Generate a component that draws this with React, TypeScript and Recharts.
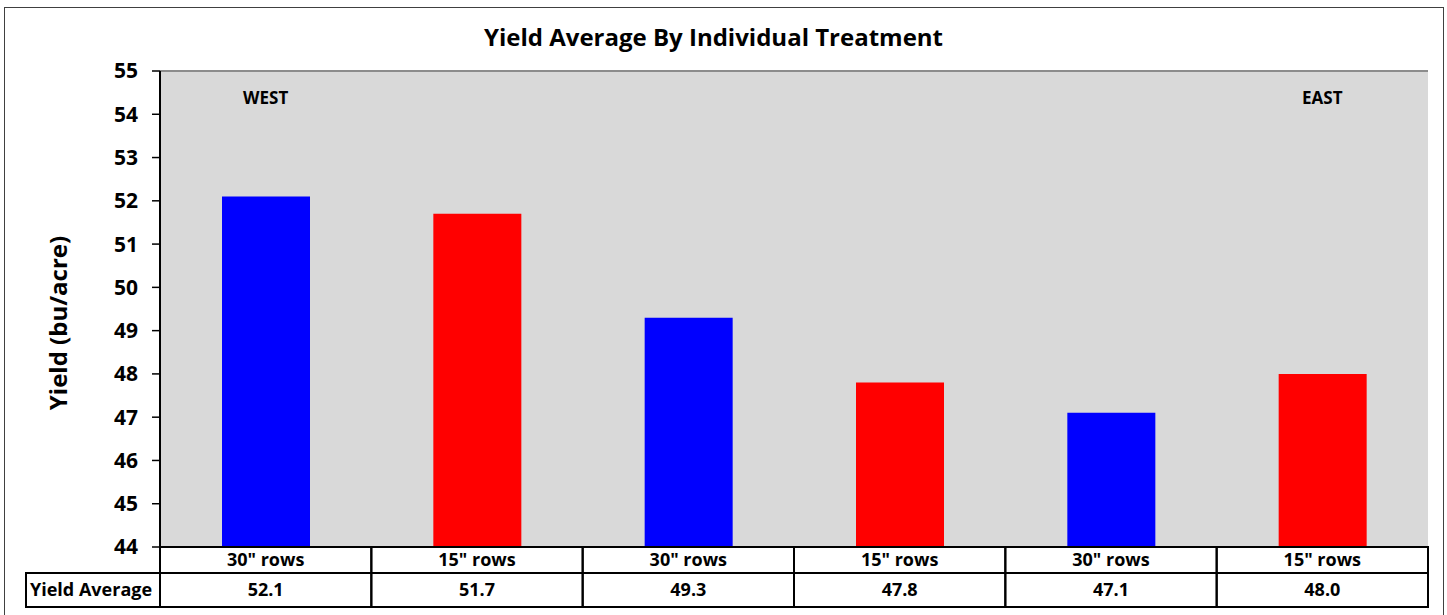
import React from 'react';
import { BarChart, Bar, XAxis, YAxis, CartesianGrid, Cell, ReferenceDot, Label } from 'recharts';

// table / axis data
const ids = ['c1', 'c2', 'c3', 'c4', 'c5', 'c6'];
const rowLabels = ['30" rows', '15" rows', '30" rows', '15" rows', '30" rows', '15" rows'];
const yieldAvg = [52.1, 51.7, 49.3, 47.8, 47.1, 48.0];
const barColors = ['#0000ff', '#ff0000', '#0000ff', '#ff0000', '#0000ff', '#ff0000'];
const yTicks = [44, 45, 46, 47, 48, 49, 50, 51, 52, 53, 54, 55];
const regionNotes = [
  { id: 'c1', text: 'WEST' },
  { id: 'c6', text: 'EAST' },
];

const data = ids.map((id, i) => ({ id, label: rowLabels[i], value: yieldAvg[i] }));

const W = 1447;
const H = 615;
const FONT = '"Open Sans", Lato, sans-serif';
const PLOT_L = 160;
const PLOT_R = 19;
const BAND = (W - PLOT_L - PLOT_R) / data.length;
const ROW1_TOP = 547;
const ROW1_H = 26;
const ROW2_H = 34;

const CategoryTick = (props: any) => {
  const { x, payload } = props;
  const d = data[payload.index];
  return (
    <g>
      <rect x={x - BAND / 2} y={ROW1_TOP} width={BAND} height={ROW1_H} fill="none" stroke="#000" strokeWidth={2} />
      <text x={x} y={ROW1_TOP + ROW1_H / 2 + 6} textAnchor="middle" fontFamily={FONT} fontWeight={700} fontSize={18} fill="#000">
        {d ? d.label : ''}
      </text>
    </g>
  );
};

const ValueTick = (props: any) => {
  const { x, payload } = props;
  const d = data[payload.index];
  const top = ROW1_TOP + ROW1_H;
  return (
    <g>
      {payload.index === 0 && (
        <g>
          <rect x={26} y={top} width={PLOT_L - 26} height={ROW2_H} fill="#fff" stroke="#000" strokeWidth={2} />
          <text x={30} y={top + ROW2_H / 2 + 6} fontFamily={FONT} fontWeight={700} fontSize={18} fill="#000">
            Yield Average
          </text>
        </g>
      )}
      <rect x={x - BAND / 2} y={top} width={BAND} height={ROW2_H} fill="none" stroke="#000" strokeWidth={2} />
      <text x={x} y={top + ROW2_H / 2 + 6} textAnchor="middle" fontFamily={FONT} fontWeight={700} fontSize={18} fill="#000">
        {d ? d.value.toFixed(1) : ''}
      </text>
    </g>
  );
};

const YLabel = (props: any) => {
  const { viewBox } = props;
  const cx = 57;
  const cy = viewBox.y + viewBox.height / 2 + 14;
  return (
    <text x={cx} y={cy} transform={`rotate(-90 ${cx} ${cy})`} textAnchor="middle" dominantBaseline="central"
      fontFamily={FONT} fontWeight={700} fontSize={24} fill="#000">
      Yield (bu/acre)
    </text>
  );
};

export default function App() {
  return (
    <div style={{ position: 'absolute', left: 0, top: 0, width: W, height: H, background: '#fff', overflow: 'hidden' }}>
      <div style={{ position: 'absolute', left: 4, top: 7, width: 1438, height: 620, border: '1.5px solid #404040' }} />
      <div style={{ position: 'absolute', left: 0, top: 20, width: 1427, textAlign: 'center', fontFamily: FONT, fontWeight: 700, fontSize: 24, color: '#000' }}>
        Yield Average By Individual Treatment
      </div>
      <div style={{ position: 'absolute', left: 0, top: 0 }}>
        <BarChart width={W} height={H} data={data} margin={{ top: 71, right: PLOT_R, left: 0, bottom: 8 }} barSize={88}>
          <CartesianGrid vertical={false} stroke="#8c8c8c" strokeWidth={2} fill="#d9d9d9" />
          <XAxis xAxisId="cat" dataKey="id" height={ROW1_H} axisLine={false} tickLine={false} tick={<CategoryTick />} interval={0} />
          <XAxis xAxisId="val" dataKey="id" height={ROW2_H} axisLine={false} tickLine={false} tick={<ValueTick />} interval={0} />
          <YAxis
            yAxisId="left"
            width={PLOT_L}
            domain={[44, 55]}
            ticks={yTicks}
            interval={0}
            allowDataOverflow
            axisLine={{ stroke: '#000', strokeWidth: 2 }}
            tickLine={{ stroke: '#000', strokeWidth: 1.5 }}
            tickSize={8}
            tickMargin={14}
            tick={{ fontFamily: FONT, fontWeight: 700, fontSize: 21, fill: '#000' }}
          >
            <Label content={<YLabel />} />
          </YAxis>
          <YAxis yAxisId="right" orientation="right" width={0} domain={[44, 55]} tick={false} tickLine={false}
            axisLine={{ stroke: '#8c8c8c', strokeWidth: 2 }} />
          <Bar dataKey="value" xAxisId="cat" yAxisId="left" isAnimationActive={false}>
            {data.map((d, i) => (
              <Cell key={d.id} fill={barColors[i]} />
            ))}
          </Bar>
          {regionNotes.map((n) => (
            <ReferenceDot key={n.id} x={n.id} y={54.38} xAxisId="cat" yAxisId="left" r={0} fill="none" stroke="none"
              label={{ value: n.text, position: 'center', fontFamily: FONT, fontWeight: 700, fontSize: 17, fill: '#000' }} />
          ))}
        </BarChart>
      </div>
    </div>
  );
}
